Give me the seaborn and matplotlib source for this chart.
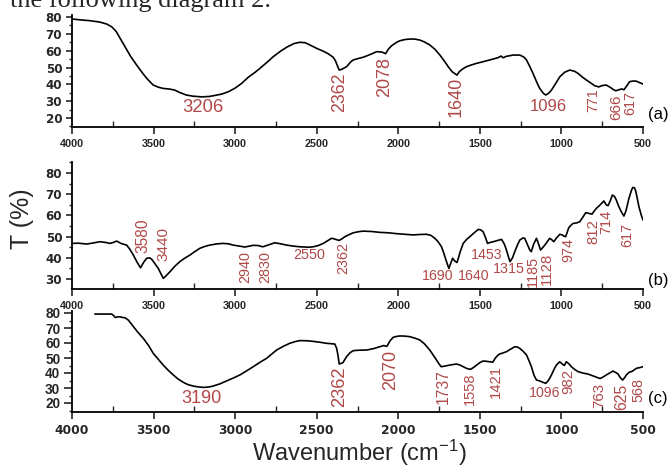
import matplotlib
matplotlib.use("Agg")
import matplotlib.pyplot as plt
from matplotlib.ticker import MultipleLocator, FixedLocator
import seaborn as sns

# ---- spectrum (a) ----
wn_a = [4000, 3950, 3890, 3830, 3787, 3757, 3730, 3700, 3670, 3640, 3604, 3570, 3542, 3520,
        3502, 3470, 3441, 3400, 3370, 3340, 3300, 3260, 3206, 3160, 3120, 3080, 3040, 3000,
        2960, 2920, 2880, 2848, 2800, 2767, 2720, 2685, 2640, 2603, 2570, 2540, 2501, 2460,
        2430, 2400, 2385, 2375, 2362, 2345, 2317, 2290, 2276, 2240, 2215, 2170, 2133, 2100,
        2078, 2060, 2040, 2010, 1990, 1960, 1929, 1900, 1868, 1840, 1807, 1775, 1745, 1715,
        1694, 1670, 1640, 1625, 1600, 1582, 1550, 1520, 1490, 1459, 1420, 1390, 1370, 1357,
        1340, 1296, 1255, 1230, 1214, 1195, 1174, 1150, 1133, 1110, 1096, 1080, 1061, 1040,
        1010, 980, 949, 920, 898, 870, 847, 820, 796, 771, 750, 725, 700, 680, 666, 645, 630,
        617, 600, 582, 560, 541, 520, 500]
t_a = [78.8, 78.3, 77.8, 77.0, 75.8, 74.2, 71.5, 66.5, 61.5, 56.5, 51.5, 47.0, 43.6, 41.3,
       39.6, 38.3, 37.6, 37.2, 36.6, 35.2, 33.7, 33.0, 32.6, 32.8, 33.5, 34.3, 35.7, 37.8,
       40.6, 44.2, 47.0, 49.5, 53.5, 56.4, 59.8, 62.0, 64.2, 65.0, 64.7, 63.3, 61.4, 59.7,
       58.2, 56.2, 54.0, 51.5, 48.5, 49.0, 50.5, 53.5, 54.5, 55.5, 56.1, 57.8, 59.4, 59.2,
       58.2, 61.0, 63.0, 65.0, 65.9, 66.6, 66.9, 66.9, 66.3, 65.2, 63.4, 60.8, 57.4, 53.5,
       50.5, 47.5, 45.5, 47.7, 49.5, 50.5, 51.6, 52.5, 53.2, 54.0, 55.0, 55.8, 56.8, 55.8,
       56.6, 57.4, 57.4, 56.2, 54.5, 50.8, 46.5, 41.0, 37.6, 34.6, 33.7, 34.6, 36.6, 39.8,
       44.5, 47.2, 48.5, 47.8, 46.5, 44.2, 42.6, 40.8, 39.2, 38.5, 39.3, 39.6, 38.2, 36.8,
       36.2, 36.9, 37.3, 36.8, 39.0, 41.6, 42.0, 41.9, 41.0, 40.2]

# ---- spectrum (b) ----
wn_b = [4000, 3960, 3910, 3870, 3828, 3790, 3767, 3745, 3726, 3700, 3665, 3645, 3624, 3600,
        3580, 3560, 3542, 3525, 3512, 3490, 3471, 3455, 3440, 3420, 3400, 3370, 3339, 3310,
        3277, 3250, 3216, 3185, 3155, 3110, 3073, 3040, 3012, 2980, 2940, 2910, 2889, 2860,
        2830, 2800, 2757, 2720, 2685, 2640, 2603, 2550, 2522, 2490, 2460, 2430, 2410, 2395,
        2380, 2362, 2345, 2327, 2300, 2276, 2245, 2215, 2160, 2113, 2060, 2011, 1960, 1909,
        1870, 1827, 1800, 1776, 1755, 1735, 1720, 1708, 1690, 1678, 1667, 1655, 1640, 1633,
        1620, 1602, 1580, 1561, 1535, 1510, 1495, 1480, 1465, 1453, 1435, 1418, 1390, 1367,
        1350, 1337, 1325, 1315, 1300, 1286, 1270, 1255, 1235, 1225, 1210, 1194, 1185, 1170,
        1153, 1140, 1128, 1115, 1102, 1085, 1072, 1060, 1047, 1030, 1010, 995, 985, 974, 965,
        955, 940, 929, 905, 888, 870, 851, 835, 812, 800, 786, 765, 750, 740, 725, 714, 700,
        688, 675, 664, 650, 633, 617, 605, 586, 570, 562, 552, 545, 535, 525, 510, 500]
t_b = [46.8, 46.9, 46.5, 47.0, 47.6, 47.2, 46.8, 47.3, 47.9, 46.8, 46.0, 44.0, 41.3, 37.8,
       35.3, 38.0, 39.8, 40.0, 39.4, 37.0, 35.0, 32.5, 30.3, 31.8, 33.4, 36.0, 38.2, 39.8,
       41.3, 42.8, 44.5, 45.4, 46.0, 46.6, 46.8, 46.6, 46.0, 45.6, 45.1, 45.6, 45.9, 45.8,
       45.2, 46.0, 47.1, 46.6, 46.0, 45.5, 45.2, 45.0, 45.2, 45.8, 46.8, 48.2, 49.2, 49.0,
       48.6, 48.2, 49.0, 50.0, 51.0, 51.8, 52.3, 52.6, 52.4, 52.0, 51.8, 51.4, 51.1, 50.8,
       51.0, 51.1, 50.6, 49.2, 47.5, 45.2, 42.0, 39.0, 35.0, 37.5, 39.8, 38.6, 37.8, 39.5,
       43.0, 46.8, 48.8, 50.0, 51.8, 53.4, 53.2, 52.3, 49.5, 46.8, 47.3, 47.6, 48.2, 48.7,
       46.5, 43.7, 40.5, 38.2, 40.0, 42.9, 46.0, 48.4, 49.4, 49.2, 46.5, 43.7, 42.9, 46.5,
       49.2, 46.5, 43.7, 44.8, 46.0, 47.8, 49.2, 48.6, 47.6, 49.4, 51.1, 50.8, 50.2, 50.0, 52.0,
       54.2, 55.5, 56.2, 56.5, 57.0, 59.0, 61.3, 61.0, 60.6, 62.0, 63.3, 64.8, 66.0, 66.8, 65.0,
       64.6, 67.0, 69.6, 69.0, 67.3, 64.5, 61.7, 59.7, 62.0, 68.1, 72.0, 73.2, 73.0, 71.6,
       68.0, 64.1, 60.0, 57.8]

# ---- spectrum (c) ----
wn_c = [3860, 3800, 3757, 3745, 3735, 3720, 3706, 3690, 3675, 3655, 3640, 3624, 3595, 3563,
        3530, 3502, 3470, 3441, 3410, 3379, 3350, 3318, 3290, 3257, 3225, 3190, 3160, 3135,
        3095, 3052, 3010, 2971, 2930, 2889, 2850, 2807, 2775, 2746, 2705, 2665, 2630, 2603,
        2560, 2522, 2480, 2440, 2405, 2389, 2378, 2370, 2362, 2340, 2317, 2296, 2276, 2240,
        2194, 2150, 2113, 2090, 2070, 2050, 2031, 2010, 1990, 1960, 1929, 1900, 1868, 1840,
        1807, 1785, 1766, 1750, 1737, 1715, 1684, 1660, 1643, 1620, 1602, 1580, 1558, 1540,
        1520, 1500, 1480, 1460, 1439, 1421, 1405, 1390, 1378, 1360, 1337, 1310, 1286, 1270,
        1255, 1235, 1214, 1200, 1184, 1168, 1153, 1135, 1123, 1108, 1096, 1080, 1061, 1045,
        1031, 1010, 995, 982, 970, 955, 939, 918, 898, 870, 837, 800, 763, 745, 725, 705, 684,
        665, 653, 640, 625, 612, 602, 585, 568, 555, 541, 520, 500]
t_c = [79.3, 79.3, 79.3, 78.3, 77.0, 77.4, 77.5, 77.0, 76.8, 75.3, 73.2, 70.9, 67.0, 63.1,
       58.2, 53.1, 49.0, 45.3, 41.8, 38.7, 36.0, 33.8, 32.3, 31.3, 30.7, 30.4, 30.7, 31.3,
       32.7, 34.7, 36.7, 38.7, 41.4, 44.2, 47.0, 49.8, 52.7, 55.3, 57.8, 59.8, 61.0, 61.6,
       61.5, 61.1, 60.5, 59.8, 59.5, 59.3, 56.5, 52.0, 46.0, 46.8, 50.9, 53.5, 54.9, 55.2,
       55.3, 56.3, 57.5, 58.3, 57.8, 61.5, 63.8, 64.4, 64.7, 64.6, 64.2, 63.3, 62.0, 59.5,
       55.3, 51.8, 48.7, 46.0, 44.2, 44.6, 45.3, 45.7, 46.0, 45.2, 44.2, 43.0, 42.4, 43.6,
       45.3, 46.9, 48.0, 47.8, 47.5, 47.2, 50.0, 51.8, 52.7, 53.3, 54.2, 56.0, 57.5, 57.3,
       56.4, 54.5, 52.0, 48.5, 44.2, 38.5, 35.3, 34.8, 34.2, 33.6, 33.1, 35.0, 38.7, 42.5,
       45.3, 47.5, 46.0, 45.0, 47.5, 46.2, 44.2, 42.3, 40.9, 40.0, 39.3, 37.8, 36.3, 37.3,
       38.7, 40.0, 41.3, 40.2, 39.3, 37.0, 35.3, 37.0, 38.7, 40.5, 41.0, 42.0, 43.1, 43.6, 44.2]

# ---- peak annotations: text, wavenumber position, T position, rotation, size ----
peaks_a = ["3206", "2362", "2078", "1640", "1096", "771", "666", "617"]
peak_x_a = [3197, 2358, 2082, 1643, 1082, 806, 663, 581]
peak_y_a = [26.5, 35.4, 44.4, 32.6, 27.1, 30.5, 26.7, 28.7]
peak_rot_a = [0, 90, 90, 90, 0, 90, 90, 90]
peak_fs_a = [13.3, 12.8, 13, 13, 12, 10.2, 11, 10.3]

peaks_b = ["3580", "3440", "2940", "2830", "2550", "2362", "1690", "1640", "1453",
           "1315", "1185", "1128", "974", "812", "714", "617"]
peak_x_b = [3563, 3441, 2940, 2813, 2546, 2337, 1761, 1537, 1459,
            1322, 1178, 1088, 959, 802, 724, 595]
peak_y_b = [50.3, 46.4, 35.8, 35.8, 41.3, 39.8, 31.4, 31.4, 41.3,
            34.6, 33.4, 35.0, 43.7, 52.3, 57.0, 50.8]
peak_rot_b = [90, 90, 90, 90, 0, 90, 0, 0, 0, 0, 90, 90, 90, 90, 90, 90]
peak_fs_b = [11.2, 11, 10.4, 10.4, 10.4, 10.4, 10.2, 10.2, 10.2,
             10.3, 10.4, 10.8, 10.4, 10.8, 10.4, 10.4]

peaks_c = ["3190", "2362", "2070", "1737", "1558", "1421", "1096", "982", "763", "625", "568"]
peak_x_c = [3206, 2358, 2047, 1725, 1561, 1404, 1102, 959, 769, 632, 530]
peak_y_c = [23.1, 30.9, 42.0, 30.9, 29.8, 34.2, 26.4, 34.2, 25.3, 24.2, 28.7]
peak_rot_c = [0, 90, 90, 90, 90, 90, 0, 90, 90, 90, 90]
peak_fs_c = [13, 13.2, 13, 11.3, 10.5, 10.7, 10.2, 10.8, 10.8, 11.4, 10.4]

x_ticks = [4000, 3500, 3000, 2500, 2000, 1500, 1000, 500]
y_ticks_a = [20, 30, 40, 50, 60, 70, 80]
y_ticks_b = [30, 40, 50, 60, 70, 80]
y_ticks_c = [20, 30, 40, 50, 60, 70, 80]
panel_tags = ["(a)", "(b)", "(c)"]

sns.set_style("ticks")
plt.rcParams["font.family"] = ["Liberation Sans", "DejaVu Sans"]
plt.rcParams["mathtext.default"] = "regular"

W, H = 671, 468
fig = plt.figure(figsize=(W / 100, H / 100), dpi=100)
fig.patch.set_facecolor("white")

PEAK_COLOR = "#b04848"


def make_axes(top_px, bottom_px):
    left, right = 72, 643
    return fig.add_axes([left / W, 1 - bottom_px / H, (right - left) / W,
                         (bottom_px - top_px) / H], facecolor="none")


def style_axes(ax, ylim, yticks, xfont, yfont, ytick_len, ypad):
    ax.set_xlim(4000, 500)
    ax.set_ylim(*ylim)
    ax.xaxis.set_major_locator(FixedLocator(x_ticks))
    ax.xaxis.set_minor_locator(MultipleLocator(250))
    ax.yaxis.set_major_locator(FixedLocator(yticks))
    ax.yaxis.set_minor_locator(MultipleLocator(5))
    for s in ("top", "right"):
        ax.spines[s].set_visible(False)
    for s in ("left", "bottom"):
        ax.spines[s].set_linewidth(1.3)
        ax.spines[s].set_color("black")
    ax.tick_params(axis="x", which="major", direction="out", length=5, width=1.2, pad=3.5)
    ax.tick_params(axis="x", which="minor", direction="in", length=4, width=1.0)
    ax.tick_params(axis="y", which="major", direction="out", length=ytick_len, width=1.2, pad=ypad)
    ax.tick_params(axis="y", which="minor", direction="out", length=2.5, width=1.0)
    ax.set_xticklabels([str(v) for v in x_ticks], **xfont)
    ax.set_yticklabels([str(v) for v in yticks], **yfont)
    ax.set_xlabel("")
    ax.set_ylabel("")


def draw_peaks(ax, names, xs, ys, rots, sizes):
    for name, x, y, r, fs in zip(names, xs, ys, rots, sizes):
        ax.text(x, y, name, rotation=r, ha="center", va="center",
                fontsize=fs, color=PEAK_COLOR, family="Liberation Sans")


ab_xfont = dict(family="Liberation Sans", fontweight="bold", fontsize=7.8)
ab_yfont = dict(family="DejaVu Sans", fontweight="bold", fontsize=8.6)
c_xfont = dict(family="DejaVu Sans", fontweight="bold", fontsize=8.8)
c_yfont = dict(family="Liberation Sans", fontweight="bold", fontsize=9.8)

ax_a = make_axes(15.3, 127)
ax_b = make_axes(162.4, 289)
ax_c = make_axes(311.5, 412)

for ax, wn, t in ((ax_a, wn_a, t_a), (ax_b, wn_b, t_b), (ax_c, wn_c, t_c)):
    sns.lineplot(x=wn, y=t, ax=ax, color="black", linewidth=1.2, sort=False, estimator=None)

style_axes(ax_a, (14.7, 81), y_ticks_a, ab_xfont, ab_yfont, 4.5, 2.5)
style_axes(ax_b, (25.3, 85), y_ticks_b, ab_xfont, ab_yfont, 4.5, 2.5)
style_axes(ax_c, (14, 81), y_ticks_c, c_xfont, c_yfont, 5.5, 3.0)

draw_peaks(ax_a, peaks_a, peak_x_a, peak_y_a, peak_rot_a, peak_fs_a)
draw_peaks(ax_b, peaks_b, peak_x_b, peak_y_b, peak_rot_b, peak_fs_b)
draw_peaks(ax_c, peaks_c, peak_x_c, peak_y_c, peak_rot_c, peak_fs_c)

for tag, ypx in zip(panel_tags, (115, 280, 398)):
    fig.text(658 / W, 1 - ypx / H, tag, ha="center", va="center", fontsize=12,
             family="Liberation Sans", color="black")

fig.text(22 / W, 1 - 219 / H, "T (%)", rotation=90, ha="center", va="center",
         fontsize=18, family="Liberation Sans")
fig.text(359 / W, 1 - 453 / H, "Wavenumber (cm$^{-1}$)", ha="center", va="center",
         fontsize=17, family="Liberation Sans")
fig.text(10 / W, 1 - 7 / H, "the following diagram 2.", ha="left", va="baseline",
         fontsize=19, family="Liberation Serif")

fig.savefig("out.png", dpi=100, facecolor="white")
